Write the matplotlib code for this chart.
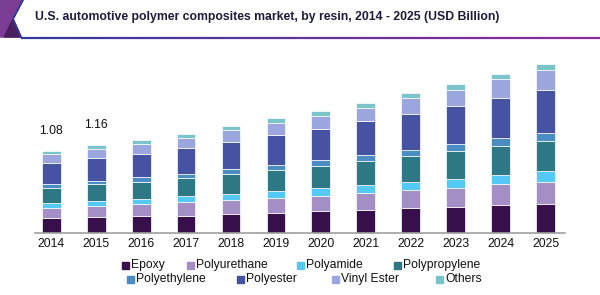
import matplotlib
matplotlib.use('Agg')
import matplotlib.pyplot as plt
import numpy as np
from matplotlib.patches import Rectangle, Polygon
from matplotlib.collections import LineCollection

matplotlib.rcParams['font.family'] = 'Liberation Sans'

years = ['2014', '2015', '2016', '2017', '2018', '2019', '2020', '2021', '2022', '2023', '2024', '2025']
resins = ['Epoxy', 'Polyurethane', 'Polyamide', 'Polypropylene',
          'Polyethylene', 'Polyester', 'Vinyl Ester', 'Others']
epoxy = [0.19, 0.20, 0.212, 0.225, 0.243, 0.26, 0.283, 0.296, 0.318, 0.344, 0.362, 0.384]
polyurethane = [0.14, 0.15, 0.163, 0.177, 0.185, 0.199, 0.203, 0.225, 0.243, 0.252, 0.274, 0.287]
polyamide = [0.06, 0.07, 0.07, 0.079, 0.084, 0.088, 0.097, 0.106, 0.11, 0.119, 0.124, 0.141]
polypropylene = [0.20, 0.22, 0.23, 0.243, 0.265, 0.278, 0.30, 0.318, 0.344, 0.366, 0.389, 0.406]
polyethylene = [0.05, 0.045, 0.057, 0.057, 0.062, 0.071, 0.075, 0.079, 0.084, 0.088, 0.097, 0.097]
polyester = [0.28, 0.305, 0.313, 0.344, 0.362, 0.389, 0.411, 0.45, 0.477, 0.508, 0.539, 0.578]
vinyl_ester = [0.12, 0.115, 0.132, 0.124, 0.15, 0.159, 0.177, 0.181, 0.199, 0.208, 0.252, 0.265]
others = [0.04, 0.055, 0.053, 0.062, 0.066, 0.066, 0.062, 0.066, 0.075, 0.079, 0.057, 0.079]
labelled = {0: '1.08', 1: '1.16'}

series = [epoxy, polyurethane, polyamide, polypropylene, polyethylene, polyester, vinyl_ester, others]
colors = ['#370f4a', '#a48ec6', '#55c9f5', '#2e7784', '#4a8cc4', '#4653a3', '#9ba6de', '#7cc4cc']

W, H = 600, 295
fs = 8.7
fig = plt.figure(figsize=(6, 2.95), dpi=100)
ax = fig.add_axes([35 / W, 62.5 / H, 530 / W, 2.5 * 75.5 / H])

x = np.arange(len(years))
bottom = np.zeros(len(years))
for vals, c, name in zip(series, colors, resins):
    ax.bar(x, vals, 0.42, bottom=bottom, color=c, edgecolor='white', linewidth=0.5, label=name)
    bottom += np.array(vals)

for i, txt in labelled.items():
    ax.text(x[i], bottom[i] + 0.18, txt, ha='center', va='bottom', fontsize=fs, color='#111111')

ax.set_xlim(-0.36, 11.43)
ax.set_ylim(0, 2.5)
ax.set_xticks(x)
ax.set_xticklabels(years, fontsize=fs, color='#111111')
ax.tick_params(axis='x', length=0, pad=4)
ax.set_yticks([])
for s in ['top', 'right', 'left']:
    ax.spines[s].set_visible(False)
ax.spines['bottom'].set_color('#a0a0a0')
ax.spines['bottom'].set_linewidth(1.2)

# legend, laid out by hand like the original (flow, not column aligned)
leg_pos = [(122, 265), (187, 265), (297, 265), (394, 265),
           (127, 279), (237, 279), (332, 279), (436, 279)]
for (px, py), c, name in zip(leg_pos, colors, resins):
    fig.patches.append(Rectangle((px / W, (H - py - 3.5) / H), 6.5 / W, 6.5 / H,
                                 transform=fig.transFigure, color=c))
    fig.text((px + 9) / W, (H - py) / H, name, fontsize=fs, va='center', color='#111111')

# header
fig.text(267 / W, (H - 17) / H, 'U.S. automotive polymer composites market, by resin, 2014 - 2025 (USD Billion)',
         ha='center', va='center', fontsize=8.8, fontweight='bold', color='#1c1c3c')
fig.patches.append(Polygon([(0, 1), (23 / W, 1), (13 / W, (H - 19) / H), (21 / W, (H - 37) / H), (0, (H - 37) / H)],
                           closed=True, transform=fig.transFigure, color='#7a3d93'))
fig.patches.append(Polygon([(4 / W, (H - 37) / H), (13 / W, (H - 19) / H), (21 / W, (H - 37) / H)],
                           closed=True, transform=fig.transFigure, color='#4a1f5e'))
fig.lines.append(plt.Line2D([23 / W, 13 / W, 21 / W], [1, (H - 19) / H, (H - 37) / H],
                            transform=fig.transFigure, color='#2f3c9c', linewidth=1.3))
xs = np.linspace(21, 600, 60)
segs = [[(xs[i] / W, (H - 37.5) / H), (xs[i + 1] / W, (H - 37.5) / H)] for i in range(len(xs) - 1)]
t = np.linspace(0, 1, len(segs))
c0 = np.array(matplotlib.colors.to_rgb('#33399e'))
c1 = np.array(matplotlib.colors.to_rgb('#8e2b9c'))
lc = LineCollection(segs, colors=[c0 * (1 - v) + c1 * v for v in t], linewidths=1.6,
                    transform=fig.transFigure)
fig.add_artist(lc)

fig.savefig('out.png', dpi=100)
